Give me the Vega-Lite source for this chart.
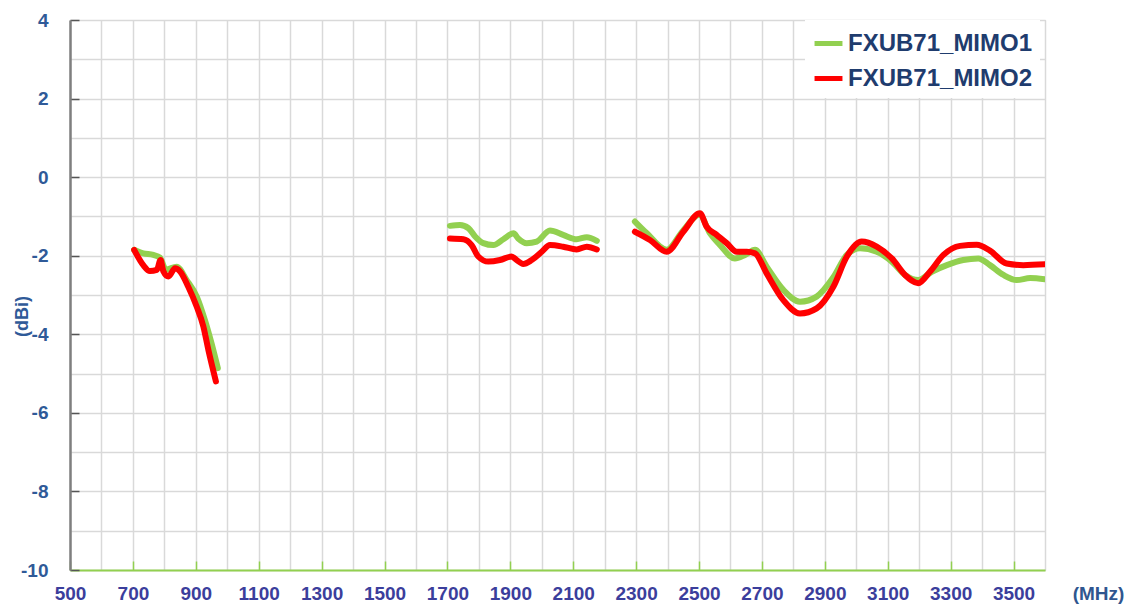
{
  "$schema": "https://vega.github.io/schema/vega-lite/v6.json",
  "autosize": "none",
  "width": 975,
  "height": 550,
  "padding": {"left": 70, "top": 20, "right": 92, "bottom": 39},
  "background": "white",
  "config": {
    "view": {"stroke": "#c8c8c8", "strokeWidth": 1},
    "font": "Liberation Sans"
  },
  "data": {
    "values": [
      {"f": 704, "g": -1.85, "s": "FXUB71_MIMO1", "b": 1},
      {"f": 733, "g": -1.94, "s": "FXUB71_MIMO1", "b": 1},
      {"f": 765, "g": -1.98, "s": "FXUB71_MIMO1", "b": 1},
      {"f": 786, "g": -2.05, "s": "FXUB71_MIMO1", "b": 1},
      {"f": 805, "g": -2.35, "s": "FXUB71_MIMO1", "b": 1},
      {"f": 839, "g": -2.28, "s": "FXUB71_MIMO1", "b": 1},
      {"f": 871, "g": -2.62, "s": "FXUB71_MIMO1", "b": 1},
      {"f": 903, "g": -3.04, "s": "FXUB71_MIMO1", "b": 1},
      {"f": 929, "g": -3.64, "s": "FXUB71_MIMO1", "b": 1},
      {"f": 950, "g": -4.23, "s": "FXUB71_MIMO1", "b": 1},
      {"f": 970, "g": -4.86, "s": "FXUB71_MIMO1", "b": 1},
      {"f": 1708, "g": -1.24, "s": "FXUB71_MIMO1", "b": 2},
      {"f": 1740, "g": -1.22, "s": "FXUB71_MIMO1", "b": 2},
      {"f": 1767, "g": -1.3, "s": "FXUB71_MIMO1", "b": 2},
      {"f": 1788, "g": -1.51, "s": "FXUB71_MIMO1", "b": 2},
      {"f": 1814, "g": -1.68, "s": "FXUB71_MIMO1", "b": 2},
      {"f": 1846, "g": -1.73, "s": "FXUB71_MIMO1", "b": 2},
      {"f": 1878, "g": -1.58, "s": "FXUB71_MIMO1", "b": 2},
      {"f": 1910, "g": -1.43, "s": "FXUB71_MIMO1", "b": 2},
      {"f": 1925, "g": -1.56, "s": "FXUB71_MIMO1", "b": 2},
      {"f": 1952, "g": -1.68, "s": "FXUB71_MIMO1", "b": 2},
      {"f": 1984, "g": -1.64, "s": "FXUB71_MIMO1", "b": 2},
      {"f": 2026, "g": -1.36, "s": "FXUB71_MIMO1", "b": 2},
      {"f": 2068, "g": -1.47, "s": "FXUB71_MIMO1", "b": 2},
      {"f": 2111, "g": -1.58, "s": "FXUB71_MIMO1", "b": 2},
      {"f": 2143, "g": -1.53, "s": "FXUB71_MIMO1", "b": 2},
      {"f": 2175, "g": -1.62, "s": "FXUB71_MIMO1", "b": 2},
      {"f": 2296, "g": -1.13, "s": "FXUB71_MIMO1", "b": 3},
      {"f": 2334, "g": -1.43, "s": "FXUB71_MIMO1", "b": 3},
      {"f": 2397, "g": -1.85, "s": "FXUB71_MIMO1", "b": 3},
      {"f": 2450, "g": -1.35, "s": "FXUB71_MIMO1", "b": 3},
      {"f": 2501, "g": -0.96, "s": "FXUB71_MIMO1", "b": 3},
      {"f": 2535, "g": -1.43, "s": "FXUB71_MIMO1", "b": 3},
      {"f": 2567, "g": -1.73, "s": "FXUB71_MIMO1", "b": 3},
      {"f": 2614, "g": -2.07, "s": "FXUB71_MIMO1", "b": 3},
      {"f": 2646, "g": -1.98, "s": "FXUB71_MIMO1", "b": 3},
      {"f": 2678, "g": -1.85, "s": "FXUB71_MIMO1", "b": 3},
      {"f": 2715, "g": -2.28, "s": "FXUB71_MIMO1", "b": 3},
      {"f": 2768, "g": -2.87, "s": "FXUB71_MIMO1", "b": 3},
      {"f": 2821, "g": -3.17, "s": "FXUB71_MIMO1", "b": 3},
      {"f": 2874, "g": -3.04, "s": "FXUB71_MIMO1", "b": 3},
      {"f": 2927, "g": -2.55, "s": "FXUB71_MIMO1", "b": 3},
      {"f": 2970, "g": -1.98, "s": "FXUB71_MIMO1", "b": 3},
      {"f": 3012, "g": -1.81, "s": "FXUB71_MIMO1", "b": 3},
      {"f": 3065, "g": -1.9, "s": "FXUB71_MIMO1", "b": 3},
      {"f": 3113, "g": -2.15, "s": "FXUB71_MIMO1", "b": 3},
      {"f": 3155, "g": -2.49, "s": "FXUB71_MIMO1", "b": 3},
      {"f": 3197, "g": -2.62, "s": "FXUB71_MIMO1", "b": 3},
      {"f": 3240, "g": -2.41, "s": "FXUB71_MIMO1", "b": 3},
      {"f": 3288, "g": -2.24, "s": "FXUB71_MIMO1", "b": 3},
      {"f": 3340, "g": -2.11, "s": "FXUB71_MIMO1", "b": 3},
      {"f": 3388, "g": -2.07, "s": "FXUB71_MIMO1", "b": 3},
      {"f": 3425, "g": -2.24, "s": "FXUB71_MIMO1", "b": 3},
      {"f": 3468, "g": -2.49, "s": "FXUB71_MIMO1", "b": 3},
      {"f": 3510, "g": -2.62, "s": "FXUB71_MIMO1", "b": 3},
      {"f": 3553, "g": -2.57, "s": "FXUB71_MIMO1", "b": 3},
      {"f": 3600, "g": -2.6, "s": "FXUB71_MIMO1", "b": 3},
      {"f": 704, "g": -1.85, "s": "FXUB71_MIMO2", "b": 1},
      {"f": 733, "g": -2.24, "s": "FXUB71_MIMO2", "b": 1},
      {"f": 754, "g": -2.39, "s": "FXUB71_MIMO2", "b": 1},
      {"f": 776, "g": -2.36, "s": "FXUB71_MIMO2", "b": 1},
      {"f": 788, "g": -2.11, "s": "FXUB71_MIMO2", "b": 1},
      {"f": 797, "g": -2.4, "s": "FXUB71_MIMO2", "b": 1},
      {"f": 813, "g": -2.53, "s": "FXUB71_MIMO2", "b": 1},
      {"f": 834, "g": -2.32, "s": "FXUB71_MIMO2", "b": 1},
      {"f": 850, "g": -2.4, "s": "FXUB71_MIMO2", "b": 1},
      {"f": 876, "g": -2.79, "s": "FXUB71_MIMO2", "b": 1},
      {"f": 903, "g": -3.3, "s": "FXUB71_MIMO2", "b": 1},
      {"f": 924, "g": -3.8, "s": "FXUB71_MIMO2", "b": 1},
      {"f": 940, "g": -4.4, "s": "FXUB71_MIMO2", "b": 1},
      {"f": 964, "g": -5.2, "s": "FXUB71_MIMO2", "b": 1},
      {"f": 1708, "g": -1.56, "s": "FXUB71_MIMO2", "b": 2},
      {"f": 1751, "g": -1.58, "s": "FXUB71_MIMO2", "b": 2},
      {"f": 1777, "g": -1.73, "s": "FXUB71_MIMO2", "b": 2},
      {"f": 1798, "g": -2.02, "s": "FXUB71_MIMO2", "b": 2},
      {"f": 1830, "g": -2.15, "s": "FXUB71_MIMO2", "b": 2},
      {"f": 1867, "g": -2.11, "s": "FXUB71_MIMO2", "b": 2},
      {"f": 1904, "g": -2.02, "s": "FXUB71_MIMO2", "b": 2},
      {"f": 1920, "g": -2.11, "s": "FXUB71_MIMO2", "b": 2},
      {"f": 1941, "g": -2.21, "s": "FXUB71_MIMO2", "b": 2},
      {"f": 1968, "g": -2.11, "s": "FXUB71_MIMO2", "b": 2},
      {"f": 2000, "g": -1.9, "s": "FXUB71_MIMO2", "b": 2},
      {"f": 2026, "g": -1.73, "s": "FXUB71_MIMO2", "b": 2},
      {"f": 2068, "g": -1.77, "s": "FXUB71_MIMO2", "b": 2},
      {"f": 2111, "g": -1.84, "s": "FXUB71_MIMO2", "b": 2},
      {"f": 2143, "g": -1.77, "s": "FXUB71_MIMO2", "b": 2},
      {"f": 2175, "g": -1.84, "s": "FXUB71_MIMO2", "b": 2},
      {"f": 2296, "g": -1.39, "s": "FXUB71_MIMO2", "b": 3},
      {"f": 2344, "g": -1.6, "s": "FXUB71_MIMO2", "b": 3},
      {"f": 2397, "g": -1.9, "s": "FXUB71_MIMO2", "b": 3},
      {"f": 2450, "g": -1.39, "s": "FXUB71_MIMO2", "b": 3},
      {"f": 2503, "g": -0.92, "s": "FXUB71_MIMO2", "b": 3},
      {"f": 2524, "g": -1.26, "s": "FXUB71_MIMO2", "b": 3},
      {"f": 2556, "g": -1.47, "s": "FXUB71_MIMO2", "b": 3},
      {"f": 2588, "g": -1.68, "s": "FXUB71_MIMO2", "b": 3},
      {"f": 2620, "g": -1.9, "s": "FXUB71_MIMO2", "b": 3},
      {"f": 2652, "g": -1.9, "s": "FXUB71_MIMO2", "b": 3},
      {"f": 2678, "g": -1.94, "s": "FXUB71_MIMO2", "b": 3},
      {"f": 2715, "g": -2.45, "s": "FXUB71_MIMO2", "b": 3},
      {"f": 2768, "g": -3.13, "s": "FXUB71_MIMO2", "b": 3},
      {"f": 2821, "g": -3.47, "s": "FXUB71_MIMO2", "b": 3},
      {"f": 2874, "g": -3.34, "s": "FXUB71_MIMO2", "b": 3},
      {"f": 2927, "g": -2.79, "s": "FXUB71_MIMO2", "b": 3},
      {"f": 2970, "g": -2.02, "s": "FXUB71_MIMO2", "b": 3},
      {"f": 3017, "g": -1.64, "s": "FXUB71_MIMO2", "b": 3},
      {"f": 3065, "g": -1.77, "s": "FXUB71_MIMO2", "b": 3},
      {"f": 3113, "g": -2.07, "s": "FXUB71_MIMO2", "b": 3},
      {"f": 3155, "g": -2.49, "s": "FXUB71_MIMO2", "b": 3},
      {"f": 3197, "g": -2.7, "s": "FXUB71_MIMO2", "b": 3},
      {"f": 3234, "g": -2.41, "s": "FXUB71_MIMO2", "b": 3},
      {"f": 3277, "g": -1.98, "s": "FXUB71_MIMO2", "b": 3},
      {"f": 3330, "g": -1.75, "s": "FXUB71_MIMO2", "b": 3},
      {"f": 3383, "g": -1.72, "s": "FXUB71_MIMO2", "b": 3},
      {"f": 3425, "g": -1.87, "s": "FXUB71_MIMO2", "b": 3},
      {"f": 3478, "g": -2.2, "s": "FXUB71_MIMO2", "b": 3},
      {"f": 3531, "g": -2.24, "s": "FXUB71_MIMO2", "b": 3},
      {"f": 3600, "g": -2.22, "s": "FXUB71_MIMO2", "b": 3}
    ]
  },
  "mark": {"type": "line", "interpolate": "monotone", "strokeWidth": 6, "strokeCap": "round", "strokeJoin": "round", "clip": true},
  "encoding": {
    "x": {
      "field": "f", "type": "quantitative",
      "scale": {"domain": [500, 3600], "nice": false, "zero": false},
      "axis": {
        "values": [500,600,700,800,900,1000,1100,1200,1300,1400,1500,1600,1700,1800,1900,2000,2100,2200,2300,2400,2500,2600,2700,2800,2900,3000,3100,3200,3300,3400,3500,3600],
        "labelExpr": "datum.value % 200 == 100 ? '' + datum.value : ''",
        "grid": true, "gridColor": "#d9d9d9", "gridWidth": 1.5,
        "domainColor": "#92D050", "domainWidth": 2,
        "tickColor": {"condition": {"test": "datum.value % 200 == 100", "value": "#92D050"}, "value": "transparent"},
        "tickSize": -9, "tickWidth": 1.5,
        "labelFont": "Liberation Sans", "labelFontSize": 19, "labelFontWeight": "bold",
        "labelColor": "#3B3E9C", "labelPadding": 23, "labelFlush": false, "labelOverlap": false,
        "title": "(MHz)", "titleX": 1028, "titleY": 23, "titleBaseline": "middle", "titleAlign": "center",
        "titleFont": "Liberation Sans", "titleFontSize": 19, "titleFontWeight": "bold", "titleColor": "#2F568F"
      }
    },
    "y": {
      "field": "g", "type": "quantitative",
      "scale": {"domain": [-10, 4], "nice": false, "zero": false},
      "axis": {
        "values": [-10,-9,-8,-7,-6,-5,-4,-3,-2,-1,0,1,2,3,4],
        "labelExpr": "datum.value % 2 == 0 ? '' + datum.value : ''",
        "grid": true, "gridColor": "#d9d9d9", "gridWidth": 1.5,
        "domainColor": "#7f7f7f", "domainWidth": 2.5,
        "tickColor": {"condition": {"test": "datum.value % 2 == 0", "value": "#555555"}, "value": "transparent"},
        "tickSize": -9, "tickWidth": 1.5,
        "labelFont": "Liberation Sans", "labelFontSize": 19, "labelFontWeight": "bold",
        "labelColor": "#2F5A98", "labelPadding": 31, "labelFlush": false, "labelOverlap": false,
        "title": "(dBi)", "titleX": -48, "titleY": 296, "titleAngle": -90, "titleBaseline": "middle", "titleAlign": "center",
        "titleFont": "Liberation Sans", "titleFontSize": 18, "titleFontWeight": "bold", "titleColor": "#2F5A98"
      }
    },
    "color": {
      "field": "s", "type": "nominal",
      "scale": {"domain": ["FXUB71_MIMO1", "FXUB71_MIMO2"], "range": ["#92D050", "#FF0000"]},
      "legend": {
        "title": null, "orient": "none", "legendX": 735, "legendY": 0,
        "fillColor": "white", "padding": 7, "strokeColor": null,
        "symbolType": "stroke", "symbolSize": 780, "symbolStrokeWidth": 5,
        "labelFont": "Liberation Sans", "labelFontSize": 24, "labelFontWeight": "bold",
        "labelColor": "#1F3C6E", "labelOffset": 3, "rowPadding": 6, "labelLimit": 300
      }
    },
    "detail": {"field": "b", "type": "nominal"}
  }
}
